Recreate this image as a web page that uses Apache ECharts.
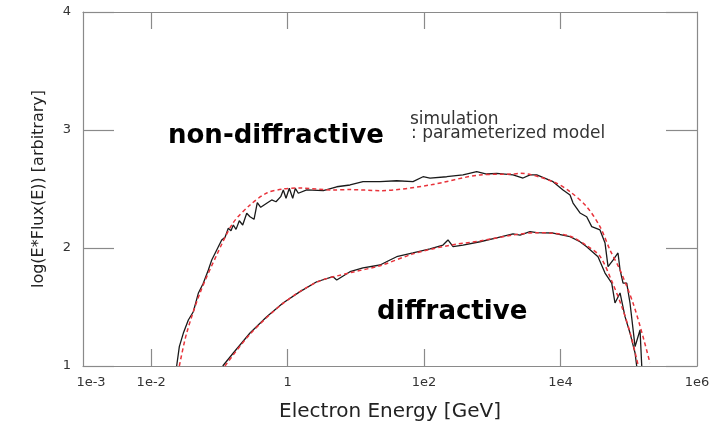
<!DOCTYPE html>
<html><head><meta charset="utf-8">
<script src="https://cdn.jsdelivr.net/npm/echarts@6/dist/echarts.min.js"></script>
<style>html,body{margin:0;padding:0;background:#fff}#c{width:717px;height:427px}</style>
</head><body><div id="c"></div>
<script>
// x values are log10(E / GeV); y values are log(E*Flux(E))
const xLabelValues = [-3, -2, 0, 2, 4, 6];
const xLabelTexts = ['1e-3', '1e-2', '1', '1e2', '1e4', '1e6'];
const xTickValues = [-2, 0, 2, 4];
const yTickValues = [1, 2, 3, 4];

// non-diffractive, simulation (black)
const ndSimX = [-1.627,-1.588,-1.530,-1.456,-1.383,-1.310,-1.237,-1.163,-1.113,-1.040,-0.967,-0.918,-0.870,-0.831,-0.797,-0.757,-0.709,-0.659,-0.600,-0.552,-0.493,-0.445,-0.395,-0.307,-0.234,-0.171,-0.102,-0.064,-0.024,0.024,0.074,0.112,0.156,0.279,0.522,0.719,0.914,1.104,1.354,1.598,1.837,1.984,2.087,2.331,2.570,2.771,2.918,3.064,3.303,3.450,3.552,3.651,3.890,4.036,4.139,4.183,4.285,4.383,4.457,4.578,4.652,4.696,4.769,4.842,4.872,4.916,4.970,5.018,5.092,5.165,5.190];
const ndSimY = [1.000,1.164,1.277,1.390,1.460,1.616,1.701,1.814,1.898,1.983,2.068,2.091,2.167,2.147,2.195,2.158,2.231,2.195,2.294,2.265,2.243,2.384,2.345,2.379,2.407,2.392,2.435,2.492,2.421,2.506,2.421,2.506,2.464,2.492,2.486,2.519,2.534,2.562,2.562,2.570,2.562,2.604,2.593,2.604,2.619,2.647,2.627,2.633,2.619,2.593,2.619,2.619,2.562,2.492,2.449,2.381,2.297,2.265,2.181,2.153,2.042,1.842,1.898,1.958,1.814,1.703,1.703,1.534,1.164,1.305,1.000];

// non-diffractive, parameterized model (red dashed)
const ndModelX = [-1.588,-1.480,-1.285,-1.040,-0.801,-0.552,-0.307,-0.068,0.181,0.665,0.914,1.354,2.087,2.819,3.303,3.406,3.890,4.139,4.383,4.578,4.725,4.872,5.062,5.209,5.311];
const ndModelY = [1.000,1.280,1.619,1.941,2.212,2.364,2.466,2.500,2.508,2.492,2.495,2.486,2.534,2.619,2.627,2.633,2.562,2.477,2.350,2.181,1.983,1.814,1.534,1.248,1.025];

// diffractive, simulation (black)
const dSimX = [-0.952,-0.797,-0.552,-0.307,-0.068,0.181,0.426,0.665,0.719,0.914,1.104,1.354,1.500,1.598,1.837,2.087,2.277,2.350,2.424,2.570,2.819,3.064,3.303,3.406,3.552,3.651,3.890,4.139,4.285,4.383,4.549,4.652,4.750,4.798,4.872,4.945,5.018,5.092,5.116];
const dSimY = [1.000,1.110,1.280,1.418,1.534,1.630,1.714,1.757,1.729,1.799,1.831,1.856,1.898,1.926,1.958,1.992,2.025,2.068,2.011,2.025,2.053,2.085,2.119,2.110,2.138,2.130,2.127,2.096,2.053,2.011,1.926,1.788,1.703,1.534,1.619,1.418,1.280,1.110,1.000];

// diffractive, parameterized model (red dashed)
const dModelX = [-0.919,-0.552,-0.068,0.426,0.914,1.354,1.837,2.347,2.819,3.303,3.651,3.890,4.139,4.383,4.578,4.750,4.900,5.020,5.120,5.140];
const dModelY = [1.000,1.270,1.530,1.710,1.790,1.850,1.950,2.020,2.060,2.110,2.130,2.125,2.100,2.020,1.930,1.720,1.500,1.280,1.050,1.000];

const zip = (xs, ys) => xs.map((x, i) => [x, ys[i]]);
const frameColor = '#8a8a8a';
const font = 'DejaVu Sans';

const xLabelFmt = v => {
  const i = xLabelValues.indexOf(v);
  if (i < 0) return '';
  return i === 0 ? '{first|' + xLabelTexts[i] + '}' : xLabelTexts[i];
};

const baseX = {
  type: 'value', min: -3, max: 6,
  axisLine: { show: true, onZero: false, lineStyle: { color: frameColor, width: 1.2 } },
  axisTick: { show: true, inside: true, length: 17, customValues: xTickValues, lineStyle: { color: frameColor, width: 1.2 } },
  splitLine: { show: false }
};
const baseY = {
  type: 'value', min: 1, max: 4, interval: 1,
  axisLine: { show: true, onZero: false, lineStyle: { color: frameColor, width: 1.2 } },
  axisTick: { show: true, inside: true, length: 31, customValues: yTickValues, lineStyle: { color: frameColor, width: 1.2 } },
  splitLine: { show: false }
};

const chart = echarts.init(document.getElementById('c'), null, { renderer: 'canvas' });
chart.setOption({
  animation: false,
  backgroundColor: '#fff',
  grid: { left: 83, right: 20, top: 12, bottom: 61 },
  xAxis: [
    Object.assign({}, baseX, {
      position: 'bottom',
      name: 'Electron Energy [GeV]', nameLocation: 'middle', nameGap: 36,
      nameTextStyle: { fontFamily: font, fontSize: 20, color: '#222' },
      axisLabel: {
        customValues: xLabelValues, formatter: xLabelFmt, margin: 10,
        fontFamily: font, fontSize: 13, color: '#333',
        rich: { first: { fontFamily: font, fontSize: 13, color: '#333', padding: [0, 0, 0, 16] } }
      }
    }),
    Object.assign({}, baseX, { position: 'top', axisLabel: { show: false } })
  ],
  yAxis: [
    Object.assign({}, baseY, {
      position: 'left',
      name: 'log(E*Flux(E)) [arbitrary]', nameLocation: 'middle', nameGap: 36,
      nameTextStyle: { fontFamily: font, fontSize: 16, color: '#222' },
      axisLabel: { margin: 12, fontFamily: font, fontSize: 13, color: '#333' }
    }),
    Object.assign({}, baseY, { position: 'right', axisLabel: { show: false } })
  ],
  series: [
    { name: 'non-diffractive simulation', type: 'line', data: zip(ndSimX, ndSimY), showSymbol: false, lineStyle: { color: '#1a1a1a', width: 1.3 }, z: 2 },
    { name: 'diffractive simulation', type: 'line', data: zip(dSimX, dSimY), showSymbol: false, lineStyle: { color: '#1a1a1a', width: 1.3 }, z: 2 },
    { name: 'non-diffractive model', type: 'line', data: zip(ndModelX, ndModelY), showSymbol: false, smooth: 0.3, lineStyle: { color: '#e8333b', width: 1.5, type: [4, 3] }, z: 3 },
    { name: 'diffractive model', type: 'line', data: zip(dModelX, dModelY), showSymbol: false, smooth: 0.3, lineStyle: { color: '#e8333b', width: 1.5, type: [4, 3] }, z: 3 }
  ],
  graphic: [
    { type: 'text', x: 168, y: 136, style: { text: 'non-diffractive', fontFamily: font, fontWeight: 'bold', fontSize: 26, fill: '#000', verticalAlign: 'middle', align: 'left' } },
    { type: 'text', x: 377, y: 312, style: { text: 'diffractive', fontFamily: font, fontWeight: 'bold', fontSize: 26, fill: '#000', verticalAlign: 'middle', align: 'left' } },
    { type: 'text', x: 410, y: 120, style: { text: 'simulation', fontFamily: font, fontSize: 17, fill: '#333', verticalAlign: 'middle', align: 'left' } },
    { type: 'text', x: 411, y: 134, style: { text: ': parameterized model', fontFamily: font, fontSize: 17, fill: '#333', verticalAlign: 'middle', align: 'left' } }
  ]
});
</script>
</body></html>
